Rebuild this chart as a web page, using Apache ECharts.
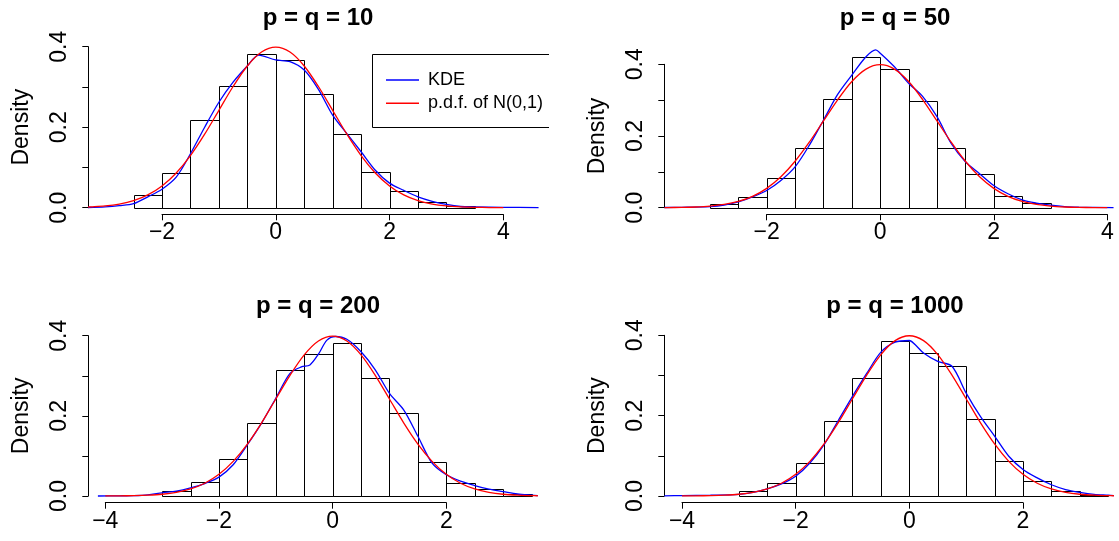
<!DOCTYPE html>
<html>
<head>
<meta charset="utf-8">
<script src="https://cdn.jsdelivr.net/npm/echarts@6/dist/echarts.min.js"></script>
<style>
html,body{margin:0;padding:0;background:#fff;}
#chart{width:1119px;height:541px;}
</style>
</head>
<body>
<div id="chart"></div>
<script>
// ---------- data ----------
const panelTitles = ['p = q = 10', 'p = q = 50', 'p = q = 200', 'p = q = 1000'];
const legendNames = ['KDE', 'p.d.f. of N(0,1)'];
const yTicks = [0, 0.1, 0.2, 0.3, 0.4];

// histogram bin breaks and densities
const p1Breaks = [-2.5,-2,-1.5,-1,-0.5,0,0.5,1,1.5,2,2.5,3,3.5];
const p1Density = [0.032,0.085,0.217,0.302,0.381,0.366,0.282,0.184,0.089,0.041,0.014,0.003];
const p2Breaks = [-3,-2.5,-2,-1.5,-1,-0.5,0,0.5,1,1.5,2,2.5,3];
const p2Density = [0.009,0.029,0.083,0.166,0.302,0.420,0.388,0.297,0.166,0.094,0.033,0.013];
const p3Breaks = [-3,-2.5,-2,-1.5,-1,-0.5,0,0.5,1,1.5,2,2.5,3,3.5];
const p3Density = [0.012,0.036,0.092,0.183,0.314,0.354,0.381,0.294,0.207,0.085,0.032,0.017,0.004];
const p4Breaks = [-3,-2.5,-2,-1.5,-1,-0.5,0,0.5,1,1.5,2,2.5,3,3.5];
const p4Density = [0.012,0.033,0.082,0.186,0.293,0.386,0.355,0.324,0.192,0.087,0.038,0.012,0.003];

// KDE curves (blue)
const p1KdeX = [-3.3,-3,-2.75,-2.5,-2.25,-2,-1.75,-1.5,-1.25,-1,-0.75,-0.5,-0.3,0,0.25,0.5,0.75,1,1.25,1.5,1.75,2,2.25,2.5,2.75,3,3.25,3.5,4,4.62];
const p1KdeY = [0.0005,0.002,0.005,0.010,0.027,0.046,0.076,0.134,0.200,0.262,0.312,0.352,0.379,0.367,0.363,0.342,0.294,0.230,0.184,0.139,0.093,0.061,0.043,0.027,0.016,0.008,0.003,0.002,0.001,0.0003];
const p2KdeX = [-3.8,-3.5,-3,-2.75,-2.5,-2.25,-2,-1.75,-1.5,-1.25,-1,-0.75,-0.5,-0.25,-0.08,0,0.25,0.5,0.75,1,1.25,1.5,1.75,2,2.25,2.5,2.75,3,3.25,3.5,4.11];
const p2KdeY = [0.0005,0.001,0.003,0.007,0.016,0.030,0.048,0.076,0.114,0.174,0.244,0.316,0.370,0.421,0.440,0.431,0.393,0.347,0.310,0.254,0.179,0.128,0.095,0.062,0.039,0.022,0.013,0.007,0.003,0.0015,0.0002];
const p3KdeX = [-4.13,-3.75,-3.5,-3.25,-3,-2.75,-2.5,-2.25,-2,-1.75,-1.5,-1.25,-1,-0.75,-0.55,-0.4,-0.25,-0.1,0.05,0.25,0.5,0.75,1,1.25,1.5,1.75,2,2.25,2.5,2.75,3,3.25,3.5,3.61];
const p3KdeY = [0,0.0005,0.001,0.003,0.008,0.012,0.020,0.031,0.047,0.078,0.128,0.182,0.244,0.306,0.322,0.327,0.354,0.389,0.398,0.391,0.360,0.315,0.256,0.215,0.149,0.082,0.053,0.037,0.026,0.017,0.011,0.005,0.002,0.001];
const p4KdeX = [-4.31,-4,-3.5,-3,-2.75,-2.5,-2.25,-2,-1.75,-1.5,-1.25,-1,-0.75,-0.5,-0.25,0,0.1,0.25,0.5,0.75,1,1.25,1.5,1.75,2,2.25,2.5,2.75,3,3.25,3.5,3.6];
const p4KdeY = [0.0005,0.001,0.002,0.004,0.009,0.018,0.030,0.049,0.082,0.128,0.188,0.248,0.305,0.358,0.383,0.387,0.377,0.356,0.335,0.323,0.256,0.198,0.149,0.099,0.066,0.045,0.028,0.016,0.009,0.004,0.002,0.001];

// N(0,1) density curves (red)
const p1NormX = [-3.3,-3.25,-3,-2.75,-2.5,-2.25,-2,-1.75,-1.5,-1.25,-1,-0.75,-0.5,-0.25,0,0.25,0.5,0.75,1,1.25,1.5,1.75,2,2.25,2.5,2.75,3,3.25,3.5,3.75,4];
const p1NormY = [0.0017,0.0020,0.0044,0.0091,0.0175,0.0317,0.0540,0.0863,0.1295,0.1826,0.2420,0.3011,0.3521,0.3867,0.3989,0.3867,0.3521,0.3011,0.2420,0.1826,0.1295,0.0863,0.0540,0.0317,0.0175,0.0091,0.0044,0.0020,0.0009,0.0004,0.0001];
const p2NormX = [-3.8,-3.75,-3.5,-3.25,-3,-2.75,-2.5,-2.25,-2,-1.75,-1.5,-1.25,-1,-0.75,-0.5,-0.25,0,0.25,0.5,0.75,1,1.25,1.5,1.75,2,2.25,2.5,2.75,3,3.25,3.5,3.75,4];
const p2NormY = [0.0003,0.0004,0.0009,0.0020,0.0044,0.0091,0.0175,0.0317,0.0540,0.0863,0.1295,0.1826,0.2420,0.3011,0.3521,0.3867,0.3989,0.3867,0.3521,0.3011,0.2420,0.1826,0.1295,0.0863,0.0540,0.0317,0.0175,0.0091,0.0044,0.0020,0.0009,0.0004,0.0001];
const p3NormX = [-4,-3.75,-3.5,-3.25,-3,-2.75,-2.5,-2.25,-2,-1.75,-1.5,-1.25,-1,-0.75,-0.5,-0.25,0,0.25,0.5,0.75,1,1.25,1.5,1.75,2,2.25,2.5,2.75,3,3.25,3.5,3.61];
const p3NormY = [0.0001,0.0004,0.0009,0.0020,0.0044,0.0091,0.0175,0.0317,0.0540,0.0863,0.1295,0.1826,0.2420,0.3011,0.3521,0.3867,0.3989,0.3867,0.3521,0.3011,0.2420,0.1826,0.1295,0.0863,0.0540,0.0317,0.0175,0.0091,0.0044,0.0020,0.0009,0.0006];
const p4NormX = [-4,-3.75,-3.5,-3.25,-3,-2.75,-2.5,-2.25,-2,-1.75,-1.5,-1.25,-1,-0.75,-0.5,-0.25,0,0.25,0.5,0.75,1,1.25,1.5,1.75,2,2.25,2.5,2.75,3,3.25,3.5,3.6];
const p4NormY = [0.0001,0.0004,0.0009,0.0020,0.0044,0.0091,0.0175,0.0317,0.0540,0.0863,0.1295,0.1826,0.2420,0.3011,0.3521,0.3867,0.3989,0.3867,0.3521,0.3011,0.2420,0.1826,0.1295,0.0863,0.0540,0.0317,0.0175,0.0091,0.0044,0.0020,0.0009,0.0006];

// x-axis tick ranges (tick labels come from the axis)
const p1XRange = [-2, 4];
const p2XRange = [-2, 4];
const p3XRange = [-4, 2];
const p4XRange = [-4, 2];

// ---------- layout ----------
const FONT = '"Liberation Sans", Arial, Helvetica, sans-serif';
const AXIS_FONT = 23;
const W = 1119, H = 541;
// left/right/top/bottom: pixel box spanned by the tick ranges; regL/regR: plot region edges
const panels = [
  {breaks:p1Breaks, dens:p1Density, kx:p1KdeX, ky:p1KdeY, nx:p1NormX, ny:p1NormY, xr:p1XRange,
   left:162, right:503.3, top:46.7, bottom:207.7, regL:88.3, regR:538, xOff:6.6, tx:318, ty:6},
  {breaks:p2Breaks, dens:p2Density, kx:p2KdeX, ky:p2KdeY, nx:p2NormX, ny:p2NormY, xr:p2XRange,
   left:766.7, right:1107.3, top:64.3, bottom:207.7, regL:664.3, regR:1114, xOff:6.6, tx:895, ty:6},
  {breaks:p3Breaks, dens:p3Density, kx:p3KdeX, ky:p3KdeY, nx:p3NormX, ny:p3NormY, xr:p3XRange,
   left:105.3, right:446.3, top:335.7, bottom:496, regL:88.3, regR:538, xOff:6.7, tx:318, ty:294.5},
  {breaks:p4Breaks, dens:p4Density, kx:p4KdeX, ky:p4KdeY, nx:p4NormX, ny:p4NormY, xr:p4XRange,
   left:682.0, right:1023.0, top:335.3, bottom:496, regL:664.3, regR:1114, xOff:6.7, tx:895, ty:294.5}
];

const minus = v => (v < 0 ? '\u2212' + (-v) : String(v));
const yMax = yTicks[yTicks.length - 1];

const grids = [], xAxes = [], yAxes = [], titles = [], series = [];
// visible axis grids (0..3)
panels.forEach((p, i) => {
  grids.push({left:p.left, width:p.right - p.left, top:p.top, height:p.bottom - p.top});
  titles.push({text:panelTitles[i], left:p.tx, top:p.ty, textAlign:'center', padding:0,
    textStyle:{fontFamily:FONT, fontSize:24, fontWeight:'bold', color:'#000'}});
  xAxes.push({gridIndex:i, type:'value', min:p.xr[0], max:p.xr[1], interval:2, offset:p.xOff,
    axisLine:{show:true, onZero:false, lineStyle:{color:'#000', width:1}},
    axisTick:{show:true, length:6, lineStyle:{color:'#000', width:1}},
    axisLabel:{fontFamily:FONT, fontSize:AXIS_FONT, color:'#000', margin:7, formatter:minus},
    splitLine:{show:false}});
  yAxes.push({gridIndex:i, type:'value', min:yTicks[0], max:yMax, interval:0.1, offset:p.left - p.regL,
    axisLine:{show:true, onZero:false, lineStyle:{color:'#000', width:1}},
    axisTick:{show:true, length:6, lineStyle:{color:'#000', width:1}},
    axisLabel:{fontFamily:FONT, fontSize:AXIS_FONT, color:'#000', rotate:90, margin:17,
      formatter: v => (Math.round(v*10) % 2 === 0 ? v.toFixed(1) : '')},
    splitLine:{show:false},
    name:'Density', nameLocation:'middle', nameGap:55,
    nameTextStyle:{fontFamily:FONT, fontSize:AXIS_FONT, color:'#000'}});
});
// data grids (4..7): full plot region, same scale as the visible axes, hidden axes
panels.forEach((p, i) => {
  const sx = (p.right - p.left) / (p.xr[1] - p.xr[0]);
  const sy = (p.bottom - p.top) / (yMax - yTicks[0]);
  const extraTop = 40, extraBottom = p.xOff;
  const gi = 4 + i;
  grids.push({left:p.regL, width:p.regR - p.regL, top:p.top - extraTop, height:p.bottom - p.top + extraTop + extraBottom});
  xAxes.push({gridIndex:gi, type:'value', show:false,
    min:p.xr[0] - (p.left - p.regL) / sx, max:p.xr[1] + (p.regR - p.right) / sx});
  yAxes.push({gridIndex:gi, type:'value', show:false,
    min:yTicks[0] - extraBottom / sy, max:yMax + extraTop / sy});
  const binData = p.dens.map((d, k) => [p.breaks[k], p.breaks[k+1], d]);
  series.push({type:'custom', xAxisIndex:gi, yAxisIndex:gi, silent:true,
    encode:{x:[0,1], y:2},
    data:binData,
    renderItem:(params, api) => {
      const a = api.coord([api.value(0), 0]);
      const b = api.coord([api.value(1), api.value(2)]);
      return {type:'rect',
        shape:{x:Math.round(a[0])+0.5, y:Math.round(b[1])+0.5, width:Math.round(b[0])-Math.round(a[0]), height:Math.round(a[1])-Math.round(b[1])},
        style:{fill:'none', stroke:'#000', lineWidth:1}};
    }});
  series.push({type:'line', name:legendNames[0], xAxisIndex:gi, yAxisIndex:gi,
    data:p.kx.map((x, k) => [x, p.ky[k]]), smooth:0.3, symbol:'none', silent:true,
    color:'#0000ff', lineStyle:{color:'#0000ff', width:1.3}});
  series.push({type:'line', name:legendNames[1], xAxisIndex:gi, yAxisIndex:gi,
    data:p.nx.map((x, k) => [x, p.ny[k]]), smooth:0.3, symbol:'none', silent:true,
    color:'#ff0000', lineStyle:{color:'#ff0000', width:1.3}});
});

const chart = echarts.init(document.getElementById('chart'), null, {renderer:'canvas', width:W, height:H});
chart.setOption({
  backgroundColor:'#fff',
  animation:false,
  title:titles,
  grid:grids,
  xAxis:xAxes,
  yAxis:yAxes,
  legend:{data:legendNames, orient:'vertical', left:386, top:71, padding:0, itemGap:5.3,
    icon:'rect', itemWidth:33, itemHeight:1.5, selectedMode:false,
    textStyle:{fontFamily:FONT, fontSize:18, lineHeight:18, color:'#000', padding:[0,0,0,4]}},
  graphic:[{type:'polyline', silent:true,
    shape:{points:[[549,54.5],[372.5,54.5],[372.5,127.5],[549,127.5]]},
    style:{stroke:'#000', lineWidth:1, fill:null}}],
  series:series
});
</script>
</body>
</html>
